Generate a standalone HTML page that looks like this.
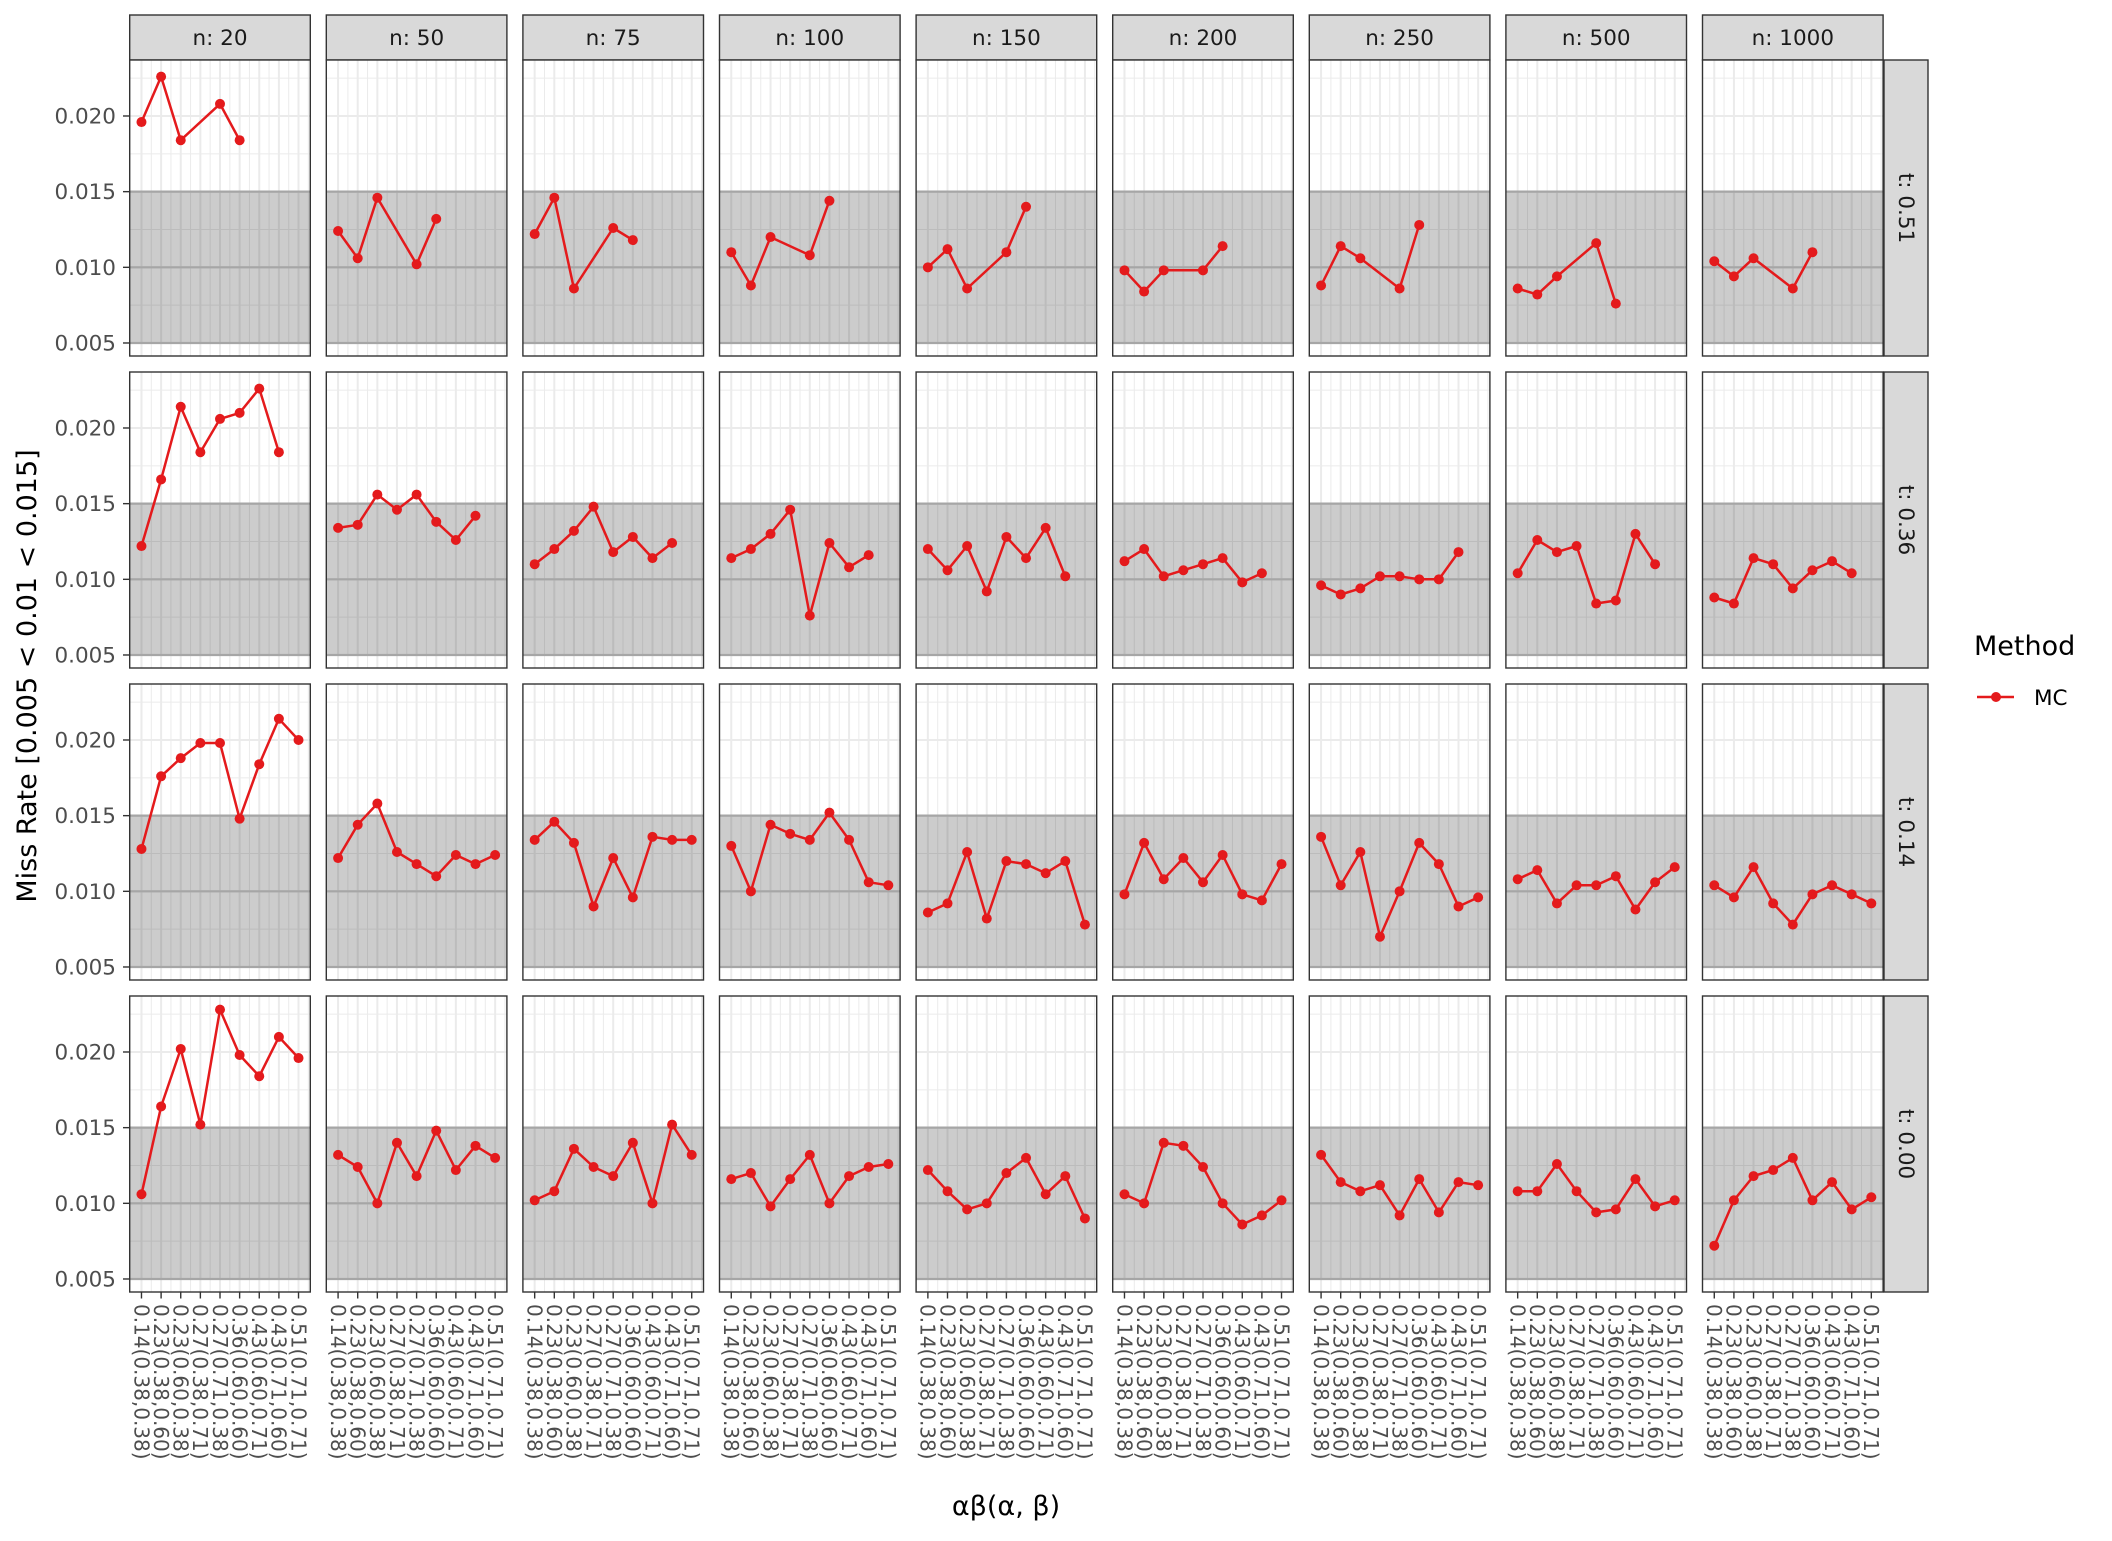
<!DOCTYPE html>
<html><head><meta charset="utf-8"><style>
html,body{margin:0;padding:0;background:#fff;}
svg text{font-family:"DejaVu Sans","Liberation Sans",sans-serif;}
</style></head><body>
<svg id="chart" xmlns="http://www.w3.org/2000/svg" width="2112" height="1536" viewBox="0 0 2112 1536">
<rect width="2112" height="1536" fill="#fff"/>
<g id="plot"></g>
<text transform="translate(36,676) rotate(-90)" text-anchor="middle" font-size="27" fill="#000">Miss Rate [0.005 &lt; 0.01 &lt; 0.015]</text>
<text x="1006" y="1515" text-anchor="middle" font-size="27" fill="#000">αβ(α, β)</text>
<g>
<text x="1974" y="655" font-size="27" fill="#000">Method</text>
<line x1="1977" y1="697" x2="2014" y2="697" stroke="#e41a1c" stroke-width="2.5"/>
<circle cx="1996" cy="697" r="5" fill="#e41a1c"/>
<text x="2034" y="705" font-size="21.5" fill="#000">MC</text>
</g>
</svg>
<script>
const categories = ["0.14(0.38,0.38)","0.23(0.38,0.60)","0.23(0.60,0.38)","0.27(0.38,0.71)","0.27(0.71,0.38)","0.36(0.60,0.60)","0.43(0.60,0.71)","0.43(0.71,0.60)","0.51(0.71,0.71)"];
const nLabels = ["n: 20","n: 50","n: 75","n: 100","n: 150","n: 200","n: 250","n: 500","n: 1000"];
const tLabels = ["t: 0.51","t: 0.36","t: 0.14","t: 0.00"];
const yTicks = [0.005,0.010,0.015,0.020];
const yTickLabels = ["0.005","0.010","0.015","0.020"];
const N = null;
// values in thousandths (x 0.001); row = t, col = n
const row051 = [
 [19.6,22.6,18.4,N,20.8,18.4,N,N,N],
 [12.4,10.6,14.6,N,10.2,13.2,N,N,N],
 [12.2,14.6,8.6,N,12.6,11.8,N,N,N],
 [11.0,8.8,12.0,N,10.8,14.4,N,N,N],
 [10.0,11.2,8.6,N,11.0,14.0,N,N,N],
 [9.8,8.4,9.8,N,9.8,11.4,N,N,N],
 [8.8,11.4,10.6,N,8.6,12.8,N,N,N],
 [8.6,8.2,9.4,N,11.6,7.6,N,N,N],
 [10.4,9.4,10.6,N,8.6,11.0,N,N,N]];
const row036 = [
 [12.2,16.6,21.4,18.4,20.6,21.0,22.6,18.4,N],
 [13.4,13.6,15.6,14.6,15.6,13.8,12.6,14.2,N],
 [11.0,12.0,13.2,14.8,11.8,12.8,11.4,12.4,N],
 [11.4,12.0,13.0,14.6,7.6,12.4,10.8,11.6,N],
 [12.0,10.6,12.2,9.2,12.8,11.4,13.4,10.2,N],
 [11.2,12.0,10.2,10.6,11.0,11.4,9.8,10.4,N],
 [9.6,9.0,9.4,10.2,10.2,10.0,10.0,11.8,N],
 [10.4,12.6,11.8,12.2,8.4,8.6,13.0,11.0,N],
 [8.8,8.4,11.4,11.0,9.4,10.6,11.2,10.4,N]];
const row014 = [
 [12.8,17.6,18.8,19.8,19.8,14.8,18.4,21.4,20.0],
 [12.2,14.4,15.8,12.6,11.8,11.0,12.4,11.8,12.4],
 [13.4,14.6,13.2,9.0,12.2,9.6,13.6,13.4,13.4],
 [13.0,10.0,14.4,13.8,13.4,15.2,13.4,10.6,10.4],
 [8.6,9.2,12.6,8.2,12.0,11.8,11.2,12.0,7.8],
 [9.8,13.2,10.8,12.2,10.6,12.4,9.8,9.4,11.8],
 [13.6,10.4,12.6,7.0,10.0,13.2,11.8,9.0,9.6],
 [10.8,11.4,9.2,10.4,10.4,11.0,8.8,10.6,11.6],
 [10.4,9.6,11.6,9.2,7.8,9.8,10.4,9.8,9.2]];
const row000 = [
 [10.6,16.4,20.2,15.2,22.8,19.8,18.4,21.0,19.6],
 [13.2,12.4,10.0,14.0,11.8,14.8,12.2,13.8,13.0],
 [10.2,10.8,13.6,12.4,11.8,14.0,10.0,15.2,13.2],
 [11.6,12.0,9.8,11.6,13.2,10.0,11.8,12.4,12.6],
 [12.2,10.8,9.6,10.0,12.0,13.0,10.6,11.8,9.0],
 [10.6,10.0,14.0,13.8,12.4,10.0,8.6,9.2,10.2],
 [13.2,11.4,10.8,11.2,9.2,11.6,9.4,11.4,11.2],
 [10.8,10.8,12.6,10.8,9.4,9.6,11.6,9.8,10.2],
 [7.2,10.2,11.8,12.2,13.0,10.2,11.4,9.6,10.4]];
const rows = [row051,row036,row014,row000];

const NS="http://www.w3.org/2000/svg";
const g=document.getElementById('plot');
function el(tag,attrs,parent){const e=document.createElementNS(NS,tag);for(const k in attrs)e.setAttribute(k,attrs[k]);(parent||g).appendChild(e);return e;}
const L0=129.7, colStep=196.6, PW=180.6, T0=60, rowStep=312, PH=296;
const yMin=0.00414, yMax=0.0237;
function yScale(top,v){return top+PH*(yMax-v)/(yMax-yMin);}
const xUnit=PW/9.2;
function xScale(left,i){return left+(0.6+i)*xUnit;}

for(let c=0;c<9;c++){
  const left=L0+c*colStep;
  const s=el('g',{});
  
  
  el('rect',{x:left,y:15,width:PW,height:45,fill:'#d9d9d9',stroke:'#333','stroke-width':1.4},s);
  const t=el('text',{x:left+PW/2,y:45,'text-anchor':'middle','font-size':21.5,fill:'#1a1a1a'},s);
  t.textContent=nLabels[c];
}
for(let r=0;r<4;r++){
  const top=T0+r*rowStep;
  const s=el('g',{});
  
  
  el('rect',{x:1884,y:top,width:44,height:PH,fill:'#d9d9d9',stroke:'#333','stroke-width':1.4},s);
  const t=el('text',{transform:`translate(${1899},${top+PH/2}) rotate(90)`,'text-anchor':'middle','font-size':21.5,fill:'#1a1a1a'},s);
  t.textContent=tLabels[r];
  yTicks.forEach((v,k)=>{
    const y=yScale(top,v);
    el('line',{x1:123,x2:129.7,y1:y,y2:y,stroke:'#333','stroke-width':1.4});
    const lt=el('text',{x:116,y:y+7.5,'text-anchor':'end','font-size':21.5,fill:'#4d4d4d'});
    
    
    lt.textContent=yTickLabels[k];
  });
  for(let c=0;c<9;c++){
    const left=L0+c*colStep;
    const p=el('g',{});
    
    
    el('rect',{x:left,y:top,width:PW,height:PH,fill:'#fff'},p);
    for(let k=0;k<4;k++){const v=yTicks[0]+0.0025+k*0.005;const y=yScale(top,v);if(y>top&&y<top+PH)el('line',{x1:left,x2:left+PW,y1:y,y2:y,stroke:'#ebebeb','stroke-width':1},p);}
    for(let i=0;i<9;i++){const x=xScale(left,i)+xUnit/2;if(x<left+PW)el('line',{x1:x,x2:x,y1:top,y2:top+PH,stroke:'#ebebeb','stroke-width':1},p);}
    yTicks.forEach(v=>{const y=yScale(top,v);el('line',{x1:left,x2:left+PW,y1:y,y2:y,stroke:'#ebebeb','stroke-width':2},p);});
    for(let i=0;i<9;i++){const x=xScale(left,i);el('line',{x1:x,x2:x,y1:top,y2:top+PH,stroke:'#ebebeb','stroke-width':2},p);}
    const b=el('rect',{x:left,y:yScale(top,0.015),width:PW,height:yScale(top,0.005)-yScale(top,0.015),fill:'#000','fill-opacity':0.2},p);
    
    
    [0.005,0.010,0.015].forEach(v=>{const y=yScale(top,v);el('line',{x1:left,x2:left+PW,y1:y,y2:y,stroke:'#a6a6a6','stroke-width':2.2},p);});
    const vals=rows[r][c];
    let d='';let started=false;
    vals.forEach((v,i)=>{if(v===null)return;const x=xScale(left,i),y=yScale(top,v/1000);d+=(started?'L':'M')+x.toFixed(1)+','+y.toFixed(1);started=true;});
    const path=el('path',{d:d,fill:'none',stroke:'#e41a1c','stroke-width':2.5,'stroke-linejoin':'round'},p);
    
    
    vals.forEach((v,i)=>{if(v===null)return;
      const pt=el('circle',{cx:xScale(left,i),cy:yScale(top,v/1000),r:5,fill:'#e41a1c'},p);
      
      
    });
    el('rect',{x:left,y:top,width:PW,height:PH,fill:'none',stroke:'#333','stroke-width':1.4},p);
    if(r===3){
      for(let i=0;i<9;i++){
        const x=xScale(left,i);
        el('line',{x1:x,x2:x,y1:top+PH,y2:top+PH+6.5,stroke:'#333','stroke-width':1.4});
        const lt=el('text',{transform:`translate(${(x-7.2).toFixed(1)},${top+PH+12}) rotate(90)`,'font-size':20,fill:'#4d4d4d'});
        
        
        lt.textContent=categories[i];
      }
    }
  }
}
</script>
</body></html>
